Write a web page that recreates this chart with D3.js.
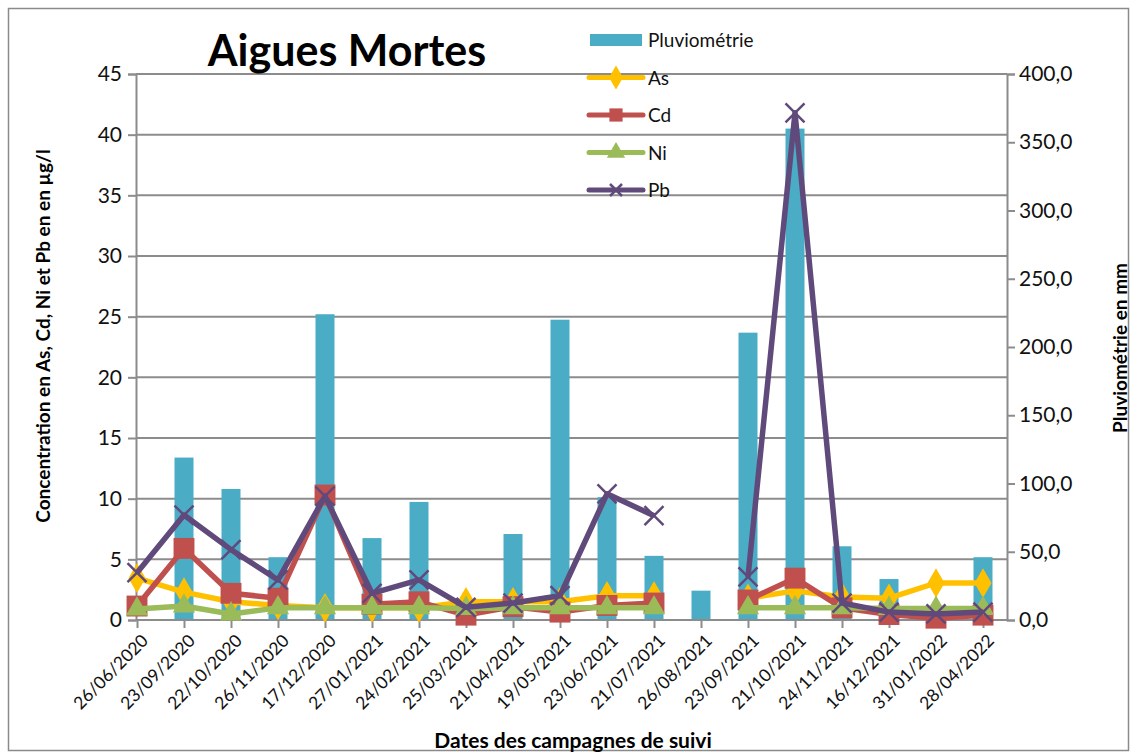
<!DOCTYPE html>
<html>
<head>
<meta charset="utf-8">
<title>Aigues Mortes</title>
<script src="https://d3js.org/d3.v7.min.js"></script>
<style>
body { margin: 0; background: #fff; }
svg { font-family: Lato, "Open Sans", sans-serif; }
</style>
</head>
<body>
<script>
const dates = ["26/06/2020", "23/09/2020", "22/10/2020", "26/11/2020", "17/12/2020", "27/01/2021",
  "24/02/2021", "25/03/2021", "21/04/2021", "19/05/2021", "23/06/2021", "21/07/2021", "26/08/2021",
  "23/09/2021", "21/10/2021", "24/11/2021", "16/12/2021", "31/01/2022", "28/04/2022"];

// pluviométrie en mm (axe droit)
const pluvio = [null, 119, 96, 46, 224, 60, 86.5, null, 63, 220, 90, 47, 21.5, 210.5, 360, 54, 30, null, 46];

// concentrations en µg/l (axe gauche)
const as = [3.45, 2.3, 1.5, 1.2, 1.0, 1.0, 1.0, 1.5, 1.5, 1.5, 2.0, 2.0, null, 1.8, 2.4, 1.9, 1.8, 3.05, 3.05];
const cd = [1.15, 5.9, 2.2, 1.8, 10.3, 1.3, 1.5, 0.4, 1.1, 0.65, 1.2, 1.4, null, 1.65, 3.45, 1.0, 0.45, 0.15, 0.4];
const ni = [0.9, 1.15, 0.5, 1.0, 1.0, 1.0, 1.0, 0.95, 1.0, 1.0, 1.0, 1.0, null, 1.0, 1.0, 1.0, 0.95, 0.95, 0.95];
const pb = [3.9, 8.65, 5.8, 3.3, 10.2, 2.2, 3.3, 1.05, 1.4, 2.0, 10.4, 8.6, null, 3.55, 41.8, 1.4, 0.65, 0.5, 0.65];

const leftTicks = d3.range(0, 46, 5);
const rightTicks = d3.range(0, 401, 50);

const width = 1135, height = 755;
const plotLeft = 136, plotRight = 1007, plotTop = 74, plotBottom = 620;

const svg = d3.select("body").append("svg")
    .attr("width", width)
    .attr("height", height);

svg.append("rect")
    .attr("x", 8.5).attr("y", 8.5)
    .attr("width", 1120).attr("height", 742)
    .attr("fill", "#fff")
    .attr("stroke", "#8a8a8a")
    .attr("stroke-width", 1.5);

const x = d3.scalePoint()
    .domain(dates)
    .range([137, 983]);

const yLeft = d3.scaleLinear().domain([0, 45]).range([plotBottom, plotTop]);
const yRight = d3.scaleLinear().domain([0, 400]).range([plotBottom, plotTop]);

// grid lines
svg.append("g")
    .selectAll("line")
    .data(leftTicks.slice(1))
    .join("line")
    .attr("x1", plotLeft).attr("x2", plotRight)
    .attr("y1", d => yLeft(d)).attr("y2", d => yLeft(d))
    .attr("stroke", "#8c8c8c")
    .attr("stroke-width", 2);

// bars
const barW = 19;
svg.append("g")
    .selectAll("rect")
    .data(pluvio.map((v, i) => ({date: dates[i], v})).filter(d => d.v != null))
    .join("rect")
    .attr("x", d => x(d.date) - barW / 2)
    .attr("width", barW)
    .attr("y", d => yRight(d.v))
    .attr("height", d => plotBottom - yRight(d.v))
    .attr("fill", "#4BACC6");

// axes
const axisColor = "#8c8c8c";
const leftAxis = svg.append("g")
    .attr("transform", `translate(${plotLeft},0)`)
    .call(d3.axisLeft(yLeft).tickValues(leftTicks).tickSize(8).tickPadding(6));

const rightAxis = svg.append("g")
    .attr("transform", `translate(${plotRight},0)`)
    .call(d3.axisRight(yRight).tickValues(rightTicks).tickSize(8).tickPadding(4)
      .tickFormat(d => d3.format(".1f")(d).replace(".", ",")));

const bottomAxis = svg.append("g")
    .attr("transform", `translate(0,${plotBottom})`)
    .call(d3.axisBottom(x).tickSize(8).tickSizeOuter(0));

bottomAxis.select(".domain").attr("d", `M${plotLeft},0H${plotRight}`);

[leftAxis, rightAxis, bottomAxis].forEach(g => {
  g.select(".domain").attr("stroke", axisColor).attr("stroke-width", 2);
  g.selectAll(".tick line").attr("stroke", axisColor).attr("stroke-width", 2);
  g.selectAll("text").attr("fill", "#111").style("font-family", "Lato, sans-serif");
});
leftAxis.selectAll("text").style("font-size", "21px");
rightAxis.selectAll("text").style("font-size", "21px");

bottomAxis.selectAll("text")
    .style("font-size", "17.5px")
    .attr("text-anchor", "end")
    .attr("dy", 0)
    .attr("transform", "translate(4,14) rotate(-45)");

// lines
const series = [
  {name: "As", values: as, color: "#FFC000", marker: "diamond"},
  {name: "Cd", values: cd, color: "#C0504D", marker: "square"},
  {name: "Ni", values: ni, color: "#9BBB59", marker: "triangle"},
  {name: "Pb", values: pb, color: "#604A7B", marker: "cross"}
];

const line = d3.line()
    .defined(d => d.v != null)
    .x(d => x(d.date))
    .y(d => yLeft(d.v));

function drawMarker(g, type, color, cx, cy, s) {
  if (type === "diamond") {
    g.append("path")
      .attr("d", d3.symbol(d3.symbolDiamond, s * 14)())
      .attr("transform", `translate(${cx},${cy})`)
      .attr("fill", color);
  } else if (type === "square") {
    g.append("rect")
      .attr("x", cx - s * 0.55).attr("y", cy - s * 0.55)
      .attr("width", s * 1.1).attr("height", s * 1.1)
      .attr("fill", color);
  } else if (type === "triangle") {
    g.append("path")
      .attr("d", d3.symbol(d3.symbolTriangle, s * 12)())
      .attr("transform", `translate(${cx},${cy})`)
      .attr("fill", color);
  } else {
    const r = s * 0.5;
    g.append("path")
      .attr("d", `M${cx - r},${cy - r}L${cx + r},${cy + r}M${cx - r},${cy + r}L${cx + r},${cy - r}`)
      .attr("stroke", color)
      .attr("stroke-width", 2.5)
      .attr("fill", "none");
  }
}

const markerSize = {diamond: 18, square: 19, triangle: 18, cross: 19};

series.forEach(s => {
  const pts = s.values.map((v, i) => ({date: dates[i], v}));
  const g = svg.append("g");
  g.append("path")
    .attr("d", line(pts))
    .attr("fill", "none")
    .attr("stroke", s.color)
    .attr("stroke-width", 5.5)
    .attr("stroke-linejoin", "round");
  pts.filter(d => d.v != null).forEach(d => {
    drawMarker(g, s.marker, s.color, x(d.date), yLeft(d.v), markerSize[s.marker]);
  });
});

// title
svg.append("text")
    .attr("x", 347).attr("y", 66)
    .attr("text-anchor", "middle")
    .style("font-size", "43px")
    .style("font-weight", "bold")
    .text("Aigues Mortes");

// axis titles
svg.append("text")
    .attr("transform", "translate(50,336) rotate(-90)")
    .attr("text-anchor", "middle")
    .style("font-size", "19px")
    .style("font-weight", "bold")
    .text("Concentration en As, Cd, Ni et Pb en en µg/l");

svg.append("text")
    .attr("transform", "translate(1127,348) rotate(-90)")
    .attr("text-anchor", "middle")
    .style("font-size", "19px")
    .style("font-weight", "bold")
    .text("Pluviométrie en mm");

svg.append("text")
    .attr("x", 573).attr("y", 748)
    .attr("text-anchor", "middle")
    .style("font-size", "21px")
    .style("font-weight", "bold")
    .text("Dates des campagnes de suivi");

// legend
const legend = svg.append("g");
const legendItems = [{name: "Pluviométrie", color: "#4BACC6", bar: true}].concat(series);
legendItems.forEach((d, i) => {
  const ly = 40 + i * 37.5;
  if (d.bar) {
    legend.append("rect")
      .attr("x", 590).attr("y", ly - 6)
      .attr("width", 52).attr("height", 12)
      .attr("fill", d.color);
  } else {
    legend.append("line")
      .attr("x1", 589).attr("x2", 643)
      .attr("y1", ly).attr("y2", ly)
      .attr("stroke", d.color)
      .attr("stroke-width", 5)
      .attr("stroke-linecap", "round");
    drawMarker(legend, d.marker, d.color, 616, ly, 12);
  }
  legend.append("text")
    .attr("x", 648).attr("y", ly + 7)
    .style("font-size", "19px")
    .attr("fill", "#111")
    .text(d.name);
});
</script>
</body>
</html>
